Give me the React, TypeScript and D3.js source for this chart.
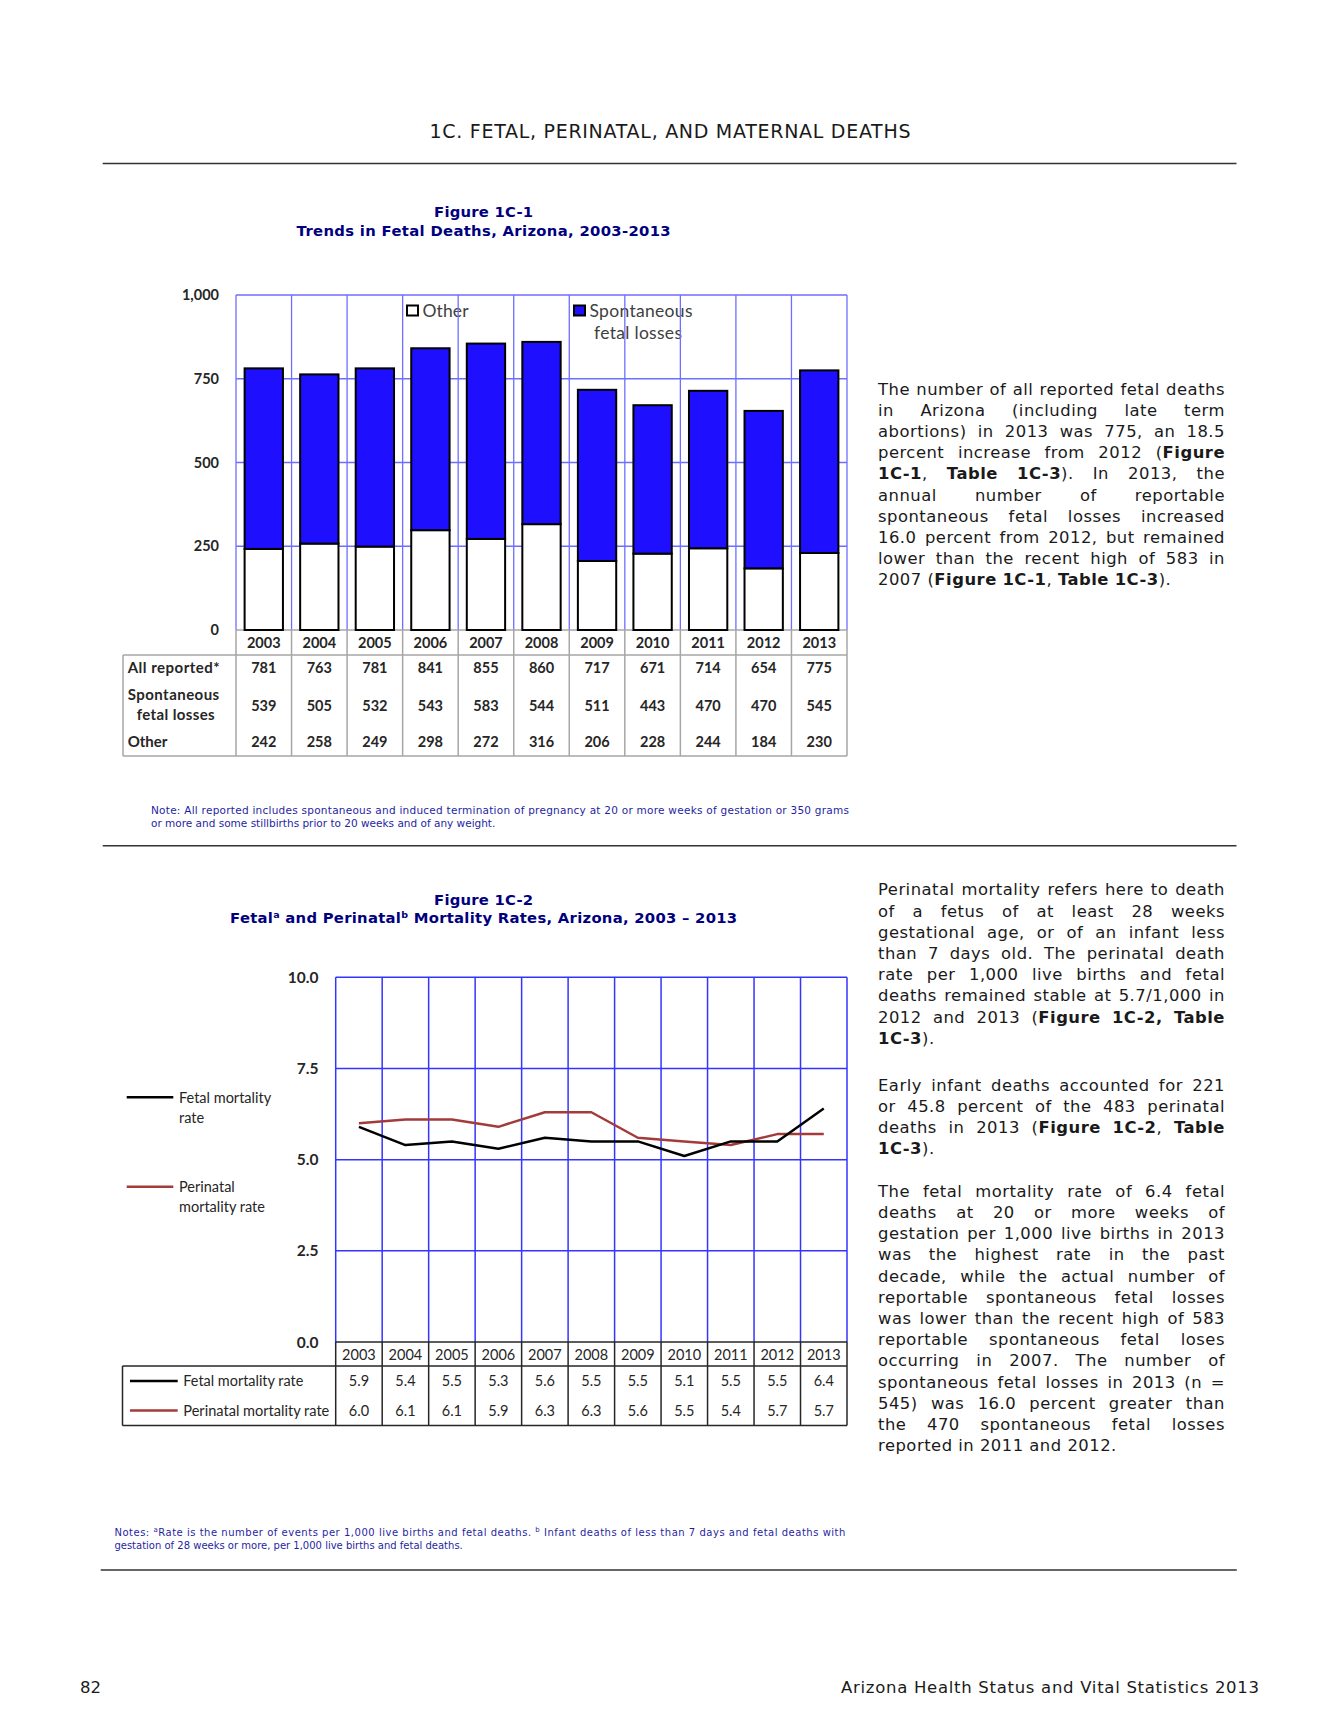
import React from "react";
import * as d3 from "d3";

// ---------- data ----------
const years = ["2003", "2004", "2005", "2006", "2007", "2008", "2009", "2010", "2011", "2012", "2013"];
const allReported = [781, 763, 781, 841, 855, 860, 717, 671, 714, 654, 775];
const spontaneous = [539, 505, 532, 543, 583, 544, 511, 443, 470, 470, 545];
const other = [242, 258, 249, 298, 272, 316, 206, 228, 244, 184, 230];
const countTicks = [0, 250, 500, 750, 1000];

const fetalRate = [5.9, 5.4, 5.5, 5.3, 5.6, 5.5, 5.5, 5.1, 5.5, 5.5, 6.4];
const perinatalRate = [6.0, 6.1, 6.1, 5.9, 6.3, 6.3, 5.6, 5.5, 5.4, 5.7, 5.7];
const rateTicks = [0, 2.5, 5, 7.5, 10];

// ---------- text ----------
const para0 = [
  "The number of all reported fetal deaths",
  "in Arizona (including late term",
  "abortions) in 2013 was 775, an 18.5",
  "percent increase from 2012 (**Figure**",
  "**1C-1**, **Table 1C-3**). In 2013, the",
  "annual number of reportable",
  "spontaneous fetal losses increased",
  "16.0 percent from 2012, but remained",
  "lower than the recent high of 583 in",
  "2007 (**Figure 1C-1**, **Table 1C-3**).",
];
const para1 = [
  "Perinatal mortality refers here to death",
  "of a fetus of at least 28 weeks",
  "gestational age, or of an infant less",
  "than 7 days old. The perinatal death",
  "rate per 1,000 live births and fetal",
  "deaths remained stable at 5.7/1,000 in",
  "2012 and 2013 (**Figure 1C-2, Table**",
  "**1C-3**).",
];
const para2 = [
  "Early infant deaths accounted for 221",
  "or 45.8 percent of the 483 perinatal",
  "deaths in 2013 (**Figure 1C-2**, **Table**",
  "**1C-3**).",
];
const para3 = [
  "The fetal mortality rate of 6.4 fetal",
  "deaths at 20 or more weeks of",
  "gestation per 1,000 live births in 2013",
  "was the highest rate in the past",
  "decade, while the actual number of",
  "reportable spontaneous fetal losses",
  "was lower than the recent high of 583",
  "reportable spontaneous fetal loses",
  "occurring in 2007. The number of",
  "spontaneous fetal losses in 2013 (n =",
  "545) was 16.0 percent greater than",
  "the 470 spontaneous fetal losses",
  "reported in 2011 and 2012.",
];

const FONT_BODY = "'DejaVu Sans', Verdana, sans-serif";
const FONT_CHART = "Lato, Calibri, 'Open Sans', sans-serif";
const NAVY = "#00007f";
const NOTE = "#1f1fa3";
const BLUE_BAR = "#1e10ff";
const LABEL = "#262626";

// ---------- justified text helper ----------
const BODY_FS = 16.4;
const BODY_LS = 0.5;
let _ctx: CanvasRenderingContext2D | null = null;
function measure(text: string, bold: boolean, fs: number) {
  if (!_ctx) _ctx = document.createElement("canvas").getContext("2d");
  if (!_ctx) return text.length * (fs * 0.58 + BODY_LS);
  _ctx.font = `${bold ? "bold " : ""}${fs}px "DejaVu Sans"`;
  return _ctx.measureText(text).width + text.length * BODY_LS;
}
type Run = { t: string; b: boolean };
function tokenize(line: string): Run[][] {
  const chars: { c: string; b: boolean }[] = [];
  line.split("**").forEach((p, i) => {
    for (const c of p) chars.push({ c, b: i % 2 === 1 });
  });
  const tokens: Run[][] = [];
  let cur: Run[] = [];
  for (const ch of chars) {
    if (ch.c === " ") {
      if (cur.length) tokens.push(cur);
      cur = [];
    } else {
      const last = cur[cur.length - 1];
      if (last && last.b === ch.b) last.t += ch.c;
      else cur.push({ t: ch.c, b: ch.b });
    }
  }
  if (cur.length) tokens.push(cur);
  return tokens;
}
function Paragraph({ lines, x, y, width, lh, fs }: { lines: string[]; x: number; y: number; width: number; lh: number; fs: number }) {
  const out: React.ReactNode[] = [];
  lines.forEach((line, li) => {
    const toks = tokenize(line);
    const widths = toks.map((tk) => tk.reduce((s, r) => s + measure(r.t, r.b, fs), 0));
    const total = widths.reduce((a, b) => a + b, 0);
    const last = li === lines.length - 1;
    const gap = last || toks.length < 2 ? measure(" ", false, fs) : (width - total) / (toks.length - 1);
    let cx = x;
    toks.forEach((tk, ti) => {
      out.push(
        <text key={`${li}-${ti}`} x={cx} y={y + li * lh} fontSize={fs} fontFamily={FONT_BODY} fill="#1a1a1a" letterSpacing={BODY_LS}>
          {tk.map((r, ri) => (
            <tspan key={ri} fontWeight={r.b ? "bold" : "normal"}>{r.t}</tspan>
          ))}
        </text>
      );
      cx += widths[ti] + gap;
    });
  });
  return <g>{out}</g>;
}

// ---------- Chart 1 ----------
function Chart1() {
  const x0 = 236, x1 = 847, yTop = 295, yZero = 630;
  const yearBottom = 655, tableLeft = 123, tableBottom = 756;
  const x = d3.scaleBand<string>().domain(years).range([x0, x1]).paddingInner(0).paddingOuter(0);
  const y = d3.scaleLinear().domain([0, 1000]).range([yZero, yTop]);
  const bw = x.bandwidth() * 0.69;
  const rows = years.map((yr, i) => ({ year: yr, other: other[i], spont: spontaneous[i] }));
  const stack = d3.stack<any>().keys(["other", "spont"])(rows);
  const fills = ["#ffffff", BLUE_BAR];
  const bounds = [...years.map((yr) => x(yr)!), x1];
  const fmt = d3.format(",");
  const grid = "#6e6eff";
  const gray = "#a6a6a6";

  return (
    <g>
      {/* legend (under grid) */}
      <rect x={407} y={305.5} width={11} height={10} fill="#fff" stroke="#000" strokeWidth={2} />
      <text x={422.5} y={317} fontSize={17.5} fontFamily={FONT_CHART} fill="#404040" textLength={46} lengthAdjust="spacing">Other</text>
      <rect x={574} y={305.5} width={11} height={10} fill={BLUE_BAR} stroke="#000" strokeWidth={2} />
      <text x={589.5} y={317} fontSize={17.5} fontFamily={FONT_CHART} fill="#404040" textLength={103} lengthAdjust="spacing">Spontaneous</text>
      <text x={594} y={339} fontSize={17.5} fontFamily={FONT_CHART} fill="#404040" textLength={88} lengthAdjust="spacing">fetal losses</text>

      {/* gridlines */}
      {countTicks.filter((t) => t > 0).map((t) => (
        <line key={t} x1={x0} x2={x1} y1={y(t)} y2={y(t)} stroke={grid} strokeWidth={1.3} />
      ))}
      {bounds.map((bx, i) => (
        <line key={i} x1={bx} x2={bx} y1={yTop} y2={yZero} stroke={grid} strokeWidth={1.3} />
      ))}

      {/* year row & table lines */}
      <line x1={x0} x2={x1} y1={yZero} y2={yZero} stroke={gray} strokeWidth={1.5} />
      {bounds.map((bx, i) => (
        <line key={i} x1={bx} x2={bx} y1={yZero} y2={tableBottom} stroke={gray} strokeWidth={1.5} />
      ))}
      <line x1={tableLeft} x2={x1} y1={yearBottom} y2={yearBottom} stroke={gray} strokeWidth={1.5} />
      <line x1={tableLeft} x2={x1} y1={tableBottom} y2={tableBottom} stroke={gray} strokeWidth={1.5} />
      <line x1={tableLeft} x2={tableLeft} y1={yearBottom} y2={tableBottom} stroke={gray} strokeWidth={1.5} />

      {/* bars */}
      {stack.map((layer, li) =>
        layer.map((d, i) => (
          <rect
            key={`${li}-${i}`}
            x={x(years[i])! + (x.bandwidth() - bw) / 2}
            y={y(d[1])}
            width={bw}
            height={y(d[0]) - y(d[1])}
            fill={fills[li]}
            stroke="#000"
            strokeWidth={2}
          />
        ))
      )}

      {/* y ticks */}
      {countTicks.map((t) => (
        <text key={t} x={219} y={y(t) + 5.2} textAnchor="end" fontSize={14.5} fontWeight="bold" fontFamily={FONT_CHART} fill={LABEL}>
          {fmt(t)}
        </text>
      ))}
      {/* years */}
      {years.map((yr) => (
        <text key={yr} x={x(yr)! + x.bandwidth() / 2} y={647.8} textAnchor="middle" fontSize={14.5} fontWeight="bold" fontFamily={FONT_CHART} fill={LABEL}>
          {yr}
        </text>
      ))}
      {/* table */}
      <text x={127.7} y={673} fontSize={15} fontWeight="bold" fontFamily={FONT_CHART} fill={LABEL} textLength={92} lengthAdjust="spacing">All reported*</text>
      <text x={127.7} y={700.3} fontSize={15} fontWeight="bold" fontFamily={FONT_CHART} fill={LABEL} textLength={91.5} lengthAdjust="spacing">Spontaneous</text>
      <text x={136.7} y={719.5} fontSize={15} fontWeight="bold" fontFamily={FONT_CHART} fill={LABEL} textLength={78} lengthAdjust="spacing">fetal losses</text>
      <text x={127.7} y={747} fontSize={15} fontWeight="bold" fontFamily={FONT_CHART} fill={LABEL}>Other</text>
      {[allReported, spontaneous, other].map((arr, ri) =>
        arr.map((v, i) => (
          <text key={`${ri}-${i}`} x={x(years[i])! + x.bandwidth() / 2} y={[673, 711.3, 747][ri]} textAnchor="middle" fontSize={14.5} fontWeight="bold" fontFamily={FONT_CHART} fill={LABEL}>
            {v}
          </text>
        ))
      )}
    </g>
  );
}

// ---------- Chart 2 ----------
function Chart2() {
  const x0 = 335.7, x1 = 847, yTop = 977.3, yZero = 1342;
  const yearBottom = 1366, tableLeft = 122.5, tableBottom = 1425.5;
  const x = d3.scaleBand<string>().domain(years).range([x0, x1]).paddingInner(0).paddingOuter(0);
  const y = d3.scaleLinear().domain([0, 10]).range([yZero, yTop]);
  const cx = (i: number) => x(years[i])! + x.bandwidth() / 2;
  const line = d3.line<number>().x((_, i) => cx(i)).y((d) => y(d));
  const bounds = [...years.map((yr) => x(yr)!), x1];
  const fmt = d3.format(".1f");
  const grid = "#3434ff";
  const dark = "#262626";
  const RED = "#a33b3b";

  return (
    <g>
      {rateTicks.filter((t) => t > 0).map((t) => (
        <line key={t} x1={x0} x2={x1} y1={y(t)} y2={y(t)} stroke={grid} strokeWidth={1.5} />
      ))}
      {bounds.map((bx, i) => (
        <line key={i} x1={bx} x2={bx} y1={yTop} y2={yZero} stroke={grid} strokeWidth={1.5} />
      ))}
      {/* year row & table */}
      <line x1={x0} x2={x1} y1={yZero} y2={yZero} stroke={dark} strokeWidth={1.5} />
      {bounds.map((bx, i) => (
        <line key={i} x1={bx} x2={bx} y1={yZero} y2={tableBottom} stroke={dark} strokeWidth={1.5} />
      ))}
      <line x1={tableLeft} x2={x1} y1={yearBottom} y2={yearBottom} stroke={dark} strokeWidth={1.5} />
      <line x1={tableLeft} x2={x1} y1={tableBottom} y2={tableBottom} stroke={dark} strokeWidth={1.5} />
      <line x1={tableLeft} x2={tableLeft} y1={yearBottom} y2={tableBottom} stroke={dark} strokeWidth={1.5} />

      {/* lines */}
      <path d={line(perinatalRate) || ""} fill="none" stroke={RED} strokeWidth={2.5} strokeLinejoin="round" />
      <path d={line(fetalRate) || ""} fill="none" stroke="#000" strokeWidth={2.5} strokeLinejoin="round" />

      {/* y ticks */}
      {rateTicks.map((t) => (
        <text key={t} x={318.5} y={y(t) + 5.5} textAnchor="end" fontSize={15.5} fontWeight="bold" fontFamily={FONT_CHART} fill={LABEL}>
          {fmt(t)}
        </text>
      ))}
      {/* years */}
      {years.map((yr) => (
        <text key={yr} x={x(yr)! + x.bandwidth() / 2} y={1359.5} textAnchor="middle" fontSize={14.5} fontFamily={FONT_CHART} fill={LABEL}>
          {yr}
        </text>
      ))}
      {/* left legend */}
      <line x1={126.7} x2={173.3} y1={1097.3} y2={1097.3} stroke="#000" strokeWidth={2.5} />
      <text x={179} y={1102.5} fontSize={14.5} fontFamily={FONT_CHART} fill={LABEL}>Fetal mortality</text>
      <text x={179} y={1122.5} fontSize={14.5} fontFamily={FONT_CHART} fill={LABEL}>rate</text>
      <line x1={126.7} x2={173.3} y1={1186.7} y2={1186.7} stroke={RED} strokeWidth={2.5} />
      <text x={179} y={1191.9} fontSize={14.5} fontFamily={FONT_CHART} fill={LABEL}>Perinatal</text>
      <text x={179} y={1211.9} fontSize={14.5} fontFamily={FONT_CHART} fill={LABEL}>mortality rate</text>

      {/* table rows */}
      <line x1={130} x2={177.7} y1={1381} y2={1381} stroke="#000" strokeWidth={2.5} />
      <text x={183.3} y={1386.2} fontSize={14.5} fontFamily={FONT_CHART} fill={LABEL} textLength={120} lengthAdjust="spacingAndGlyphs">Fetal mortality rate</text>
      <line x1={130} x2={177.7} y1={1410.5} y2={1410.5} stroke={RED} strokeWidth={2.5} />
      <text x={183.3} y={1415.7} fontSize={14.5} fontFamily={FONT_CHART} fill={LABEL} textLength={146} lengthAdjust="spacingAndGlyphs">Perinatal mortality rate</text>
      {[fetalRate, perinatalRate].map((arr, ri) =>
        arr.map((v, i) => (
          <text key={`${ri}-${i}`} x={cx(i)} y={[1386.2, 1415.7][ri]} textAnchor="middle" fontSize={14.5} fontFamily={FONT_CHART} fill={LABEL}>
            {fmt(v)}
          </text>
        ))
      )}
    </g>
  );
}

export default function App() {
  return (
    <svg
      width={1338}
      height={1731}
      viewBox="0 0 1338 1731"
      style={{ position: "absolute", left: 0, top: 0, display: "block", background: "#fff" }}
    >
      <rect x={0} y={0} width={1338} height={1731} fill="#fff" />
      {/* page header */}
      <text x={670} y={138} textAnchor="middle" fontSize={19} fontFamily={FONT_BODY} fill="#1a1a1a" textLength={481} lengthAdjust="spacing">
        1C. FETAL, PERINATAL, AND MATERNAL DEATHS
      </text>
      <line x1={102.7} x2={1236.5} y1={163.4} y2={163.4} stroke="#333" strokeWidth={1.5} />

      {/* Figure 1 title */}
      <text x={483.6} y={217} textAnchor="middle" fontSize={14.8} fontWeight="bold" fontFamily={FONT_BODY} fill={NAVY} textLength={99} lengthAdjust="spacing">
        Figure 1C-1
      </text>
      <text x={483.6} y={235.5} textAnchor="middle" fontSize={14.8} fontWeight="bold" fontFamily={FONT_BODY} fill={NAVY} textLength={374} lengthAdjust="spacing">
        Trends in Fetal Deaths, Arizona, 2003-2013
      </text>

      <Chart1 />

      <text x={151} y={813.5} fontSize={10.5} fontFamily={FONT_BODY} fill={NOTE} textLength={698} lengthAdjust="spacing">
        Note: All reported includes spontaneous and induced termination of pregnancy at 20 or more weeks of gestation or 350 grams
      </text>
      <text x={151} y={826.5} fontSize={10.5} fontFamily={FONT_BODY} fill={NOTE}>
        or more and some stillbirths prior to 20 weeks and of any weight.
      </text>

      <Paragraph lines={para0} x={878} y={394.6} width={347} lh={21.2} fs={BODY_FS} />

      <line x1={102.7} x2={1236.5} y1={845.7} y2={845.7} stroke="#333" strokeWidth={1.5} />

      {/* Figure 2 title */}
      <text x={483.6} y={904.5} textAnchor="middle" fontSize={14.8} fontWeight="bold" fontFamily={FONT_BODY} fill={NAVY} textLength={99} lengthAdjust="spacing">
        Figure 1C-2
      </text>
      <text x={483.6} y={923} textAnchor="middle" fontSize={14.8} fontWeight="bold" fontFamily={FONT_BODY} fill={NAVY} textLength={507} lengthAdjust="spacing">
        Fetal<tspan fontSize={9.5} dy={-5}>a</tspan>
        <tspan dy={5}> and Perinatal</tspan>
        <tspan fontSize={9.5} dy={-5}>b</tspan>
        <tspan dy={5}> Mortality Rates, Arizona, 2003 – 2013</tspan>
      </text>

      <Chart2 />

      <Paragraph lines={para1} x={878} y={895.3} width={347} lh={21.2} fs={BODY_FS} />
      <Paragraph lines={para2} x={878} y={1090.5} width={347} lh={21.2} fs={BODY_FS} />
      <Paragraph lines={para3} x={878} y={1196.8} width={347} lh={21.2} fs={BODY_FS} />

      <text x={114.4} y={1535.5} fontSize={10} fontFamily={FONT_BODY} fill={NOTE} textLength={731} lengthAdjust="spacing">
        Notes: <tspan fontSize={7} dy={-4}>a</tspan>
        <tspan dy={4}>Rate is the number of events per 1,000 live births and fetal deaths. </tspan>
        <tspan fontSize={7} dy={-4}>b</tspan>
        <tspan dy={4}> Infant deaths of less than 7 days and fetal deaths with</tspan>
      </text>
      <text x={114.4} y={1549} fontSize={10} fontFamily={FONT_BODY} fill={NOTE}>
        gestation of 28 weeks or more, per 1,000 live births and fetal deaths.
      </text>
      <line x1={100.7} x2={1236.8} y1={1570} y2={1570} stroke="#333" strokeWidth={1.5} />

      {/* footer */}
      <text x={80} y={1692.5} fontSize={16.5} fontFamily={FONT_BODY} fill="#1a1a1a">82</text>
      <text x={1259} y={1692.5} textAnchor="end" fontSize={16.5} fontFamily={FONT_BODY} fill="#1a1a1a" textLength={418} lengthAdjust="spacing">
        Arizona Health Status and Vital Statistics  2013
      </text>
    </svg>
  );
}
